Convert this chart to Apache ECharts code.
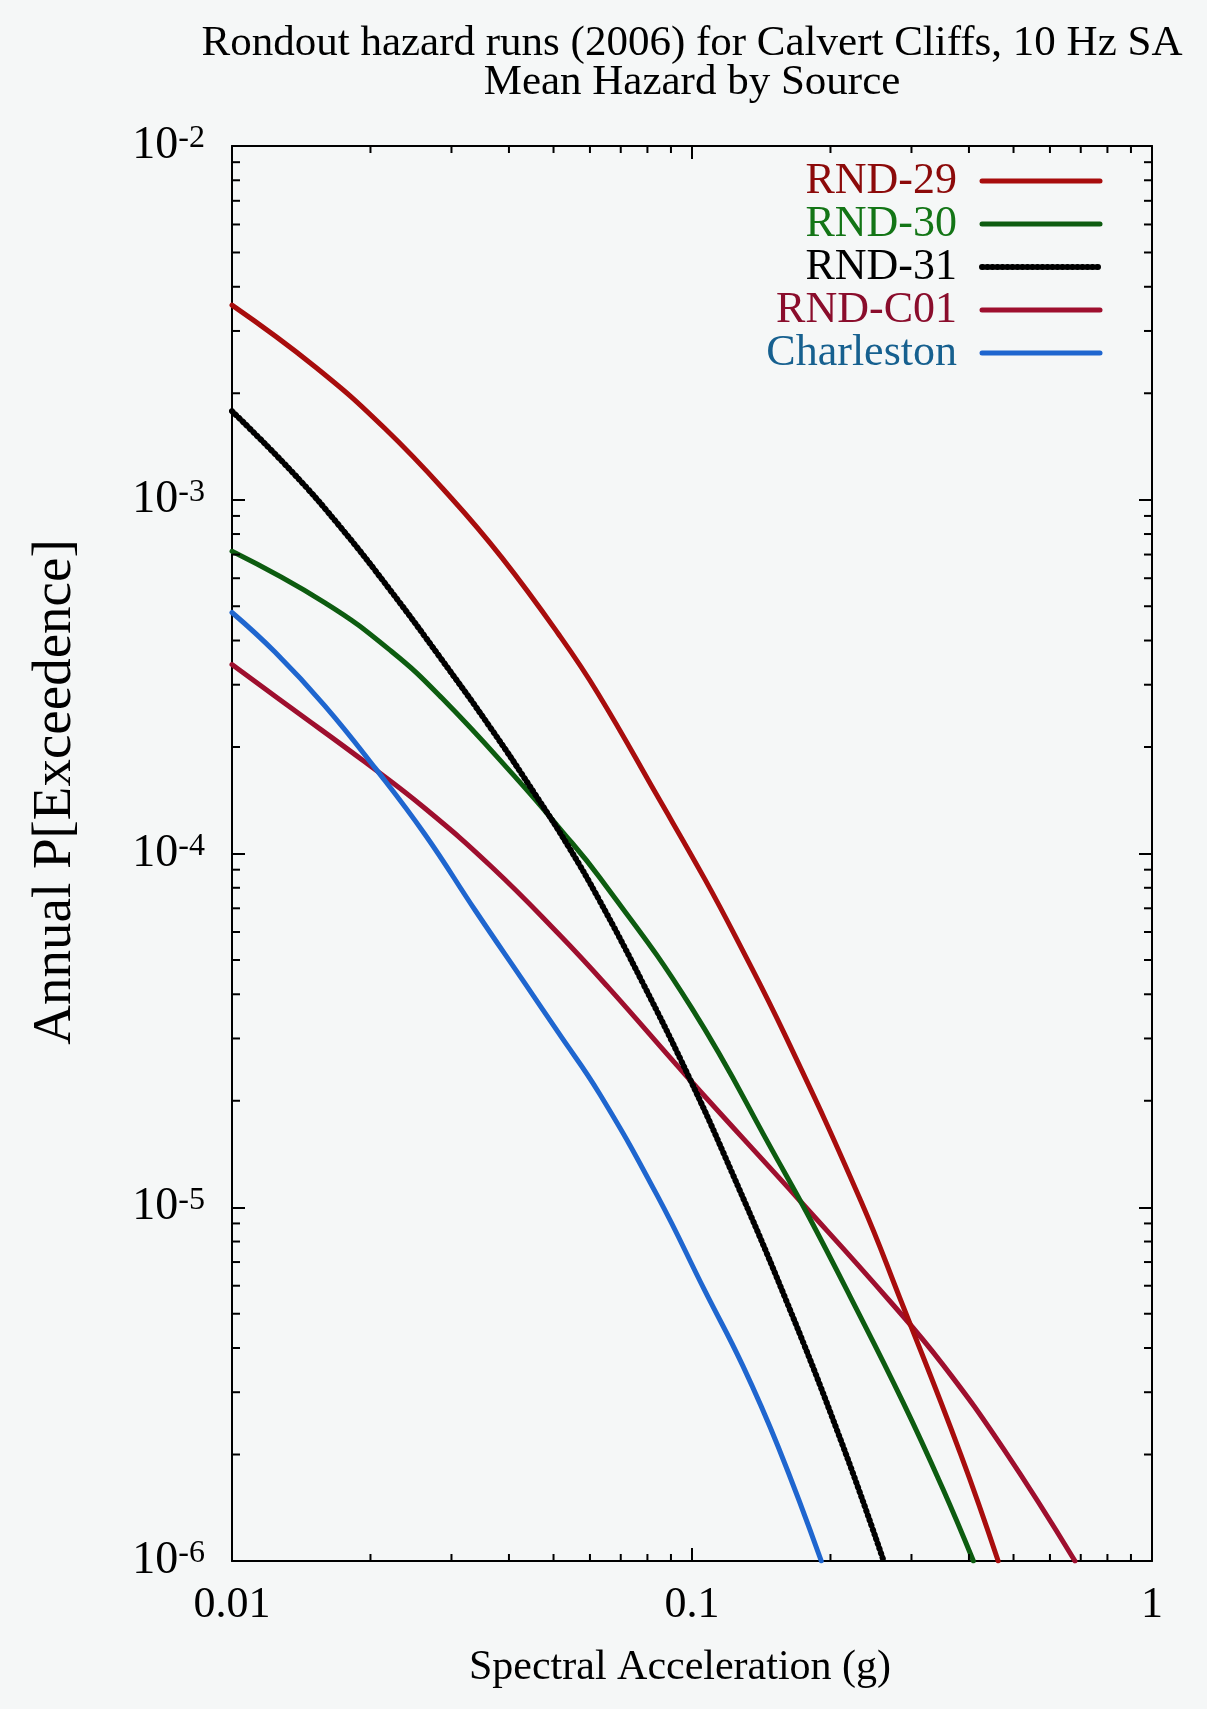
<!DOCTYPE html>
<html>
<head>
<meta charset="utf-8">
<title>Rondout hazard runs (2006) for Calvert Cliffs</title>
<script src="https://cdn.jsdelivr.net/npm/echarts@6/dist/echarts.min.js"></script>
<style>
  html, body { margin: 0; padding: 0; background: #f5f7f7; }
  #chart { width: 1207px; height: 1709px; }
</style>
</head>
<body>
<div id="chart"></div>
<script>
// Values: spectral acceleration (g) vs annual P[exceedence]
const rnd29Sa  = [0.01, 0.0152, 0.0215, 0.030, 0.0386, 0.0512, 0.0625, 0.0839, 0.1067, 0.1245, 0.160, 0.233, 0.283, 0.384, 0.463]
const rnd29Haz = [3.55e-3, 2.37e-3, 1.59e-3, 1.01e-3, 6.86e-4, 4.18e-4, 2.83e-4, 1.46e-4, 8.45e-5, 5.8e-5, 3.03e-5, 1.04e-5, 5.54e-6, 2.0e-6, 1.0e-6]

const rnd30Sa  = [0.01, 0.0159, 0.0222, 0.0286, 0.0419, 0.0512, 0.063, 0.0998, 0.154, 0.178, 0.2206, 0.288, 0.351, 0.409]
const rnd30Haz = [7.15e-4, 5.12e-4, 3.73e-4, 2.75e-4, 1.61e-4, 1.19e-4, 8.55e-5, 3.66e-5, 1.35e-5, 9.6e-6, 5.6e-6, 2.8e-6, 1.6e-6, 1.0e-6]

const rnd31Sa  = [0.01, 0.0135, 0.0173, 0.0222, 0.0284, 0.0367, 0.0456, 0.0538, 0.063, 0.0782, 0.0987, 0.118, 0.160, 0.213, 0.261]
const rnd31Haz = [1.78e-3, 1.2e-3, 8.3e-4, 5.5e-4, 3.57e-4, 2.24e-4, 1.47e-4, 1.05e-4, 7.35e-5, 4.3e-5, 2.32e-5, 1.39e-5, 5.48e-6, 2.11e-6, 1.0e-6]

const rndC01Sa  = [0.01, 0.0135, 0.0195, 0.0263, 0.0367, 0.0512, 0.0657, 0.0987, 0.172, 0.2685, 0.351, 0.476, 0.680]
const rndC01Haz = [3.42e-4, 2.57e-4, 1.81e-4, 1.34e-4, 9.16e-5, 5.94e-5, 4.19e-5, 2.3e-5, 1.04e-5, 5.45e-6, 3.59e-6, 2.07e-6, 1.0e-6]

const charlestonSa  = [0.01, 0.0124, 0.0159, 0.0205, 0.0263, 0.0338, 0.0433, 0.0512, 0.063, 0.084, 0.1067, 0.129, 0.154, 0.191]
const charlestonHaz = [4.8e-4, 3.71e-4, 2.62e-4, 1.74e-4, 1.13e-4, 6.9e-5, 4.3e-5, 3.12e-5, 2.09e-5, 1.08e-5, 5.8e-6, 3.56e-6, 2.1e-6, 1.0e-6]

const seriesNames = ['RND-29', 'RND-30', 'RND-31', 'RND-C01', 'Charleston']
const legendColors = ['#8c0a0a', '#137516', '#000000', '#8a0d2c', '#16608f']

// axis ranges and minor tick positions (gnuplot style 2..9 per decade)
const X_MIN = 0.01, X_MAX = 1
const Y_MIN = 1e-6, Y_MAX = 1e-2
const xMinorTicks = [0.02, 0.03, 0.04, 0.05, 0.06, 0.07, 0.08, 0.09, 0.2, 0.3, 0.4, 0.5, 0.6, 0.7, 0.8, 0.9]
const yDecades = [1e-6, 1e-5, 1e-4, 1e-3]
const yMinorTicks = yDecades.flatMap(d => [2, 3, 4, 5, 6, 7, 8, 9].map(k => +(k * d).toPrecision(2)))

const FONT = '"Liberation Serif", "DejaVu Serif", serif'
const BG = '#f5f7f7'

const pair = (xs, ys) => xs.map((x, i) => [x, ys[i]])

const chart = echarts.init(document.getElementById('chart'), null, { renderer: 'canvas' })

const lineSeries = (name, data, color, extraLine) => ({
    name: name,
    type: 'line',
    data: data,
    symbol: 'none',
    smooth: 0.45,
    smoothConstraint: false,
    clip: true,
    lineStyle: Object.assign({ color: color, width: 5, join: 'round', cap: 'round' }, extraLine || {}),
    itemStyle: { color: color },
    emphasis: { disabled: true }
})

// short inward ticks drawn through the axes' own scale
const minorTickSeries = (data, isX) => ({
    type: 'custom',
    silent: true,
    clip: false,
    data: data,
    z: 10,
    renderItem: (params, api) => {
        const v = api.value(isX ? 0 : 1)
        const style = { stroke: '#000', lineWidth: 2 }
        if (isX) {
            const b = api.coord([v, Y_MIN])
            const t = api.coord([v, Y_MAX])
            return {
                type: 'group',
                children: [
                    { type: 'line', shape: { x1: b[0], y1: b[1], x2: b[0], y2: b[1] - 7 }, style },
                    { type: 'line', shape: { x1: t[0], y1: t[1], x2: t[0], y2: t[1] + 7 }, style }
                ]
            }
        }
        const l = api.coord([X_MIN, v])
        const r = api.coord([X_MAX, v])
        return {
            type: 'group',
            children: [
                { type: 'line', shape: { x1: l[0], y1: l[1], x2: l[0] + 8, y2: l[1] }, style },
                { type: 'line', shape: { x1: r[0], y1: r[1], x2: r[0] - 8, y2: r[1] }, style }
            ]
        }
    }
})

const axisLine = { show: true, lineStyle: { color: '#000', width: 2 } }
const majorTick = { show: true, inside: true, length: 13, lineStyle: { color: '#000', width: 2 } }

const option = {
    backgroundColor: BG,
    animation: false,
    textStyle: { fontFamily: FONT },
    grid: { left: 232, right: 55, top: 146, bottom: 148, containLabel: false, outerBoundsMode: 'none' },
    graphic: [
        {
            type: 'text', x: 692, y: 44,
            style: { text: 'Rondout hazard runs (2006) for Calvert Cliffs, 10 Hz SA', font: '43px ' + FONT, fill: '#000', align: 'center', verticalAlign: 'middle' }
        },
        {
            type: 'text', x: 692, y: 83,
            style: { text: 'Mean Hazard by Source', font: '43px ' + FONT, fill: '#000', align: 'center', verticalAlign: 'middle' }
        },
        {
            type: 'text', x: 56, y: 792, rotation: Math.PI / 2,
            style: { text: 'Annual P[Exceedence]', font: '55px ' + FONT, fill: '#000', align: 'center', verticalAlign: 'middle' }
        }
    ],
    legend: {
        orient: 'vertical',
        right: 99,
        top: 154,
        align: 'right',
        itemWidth: 118,
        itemHeight: 3,
        itemGap: -1,
        selectedMode: false,
        itemStyle: { opacity: 0 },
        lineStyle: { width: 'inherit' },
        textStyle: { fontFamily: FONT, fontSize: 44, lineHeight: 41, padding: [0, 20, 0, 0] },
        data: seriesNames.map((n, i) => ({ name: n, textStyle: { color: legendColors[i] } }))
    },
    xAxis: [
        {
            type: 'log', logBase: 10, min: X_MIN, max: X_MAX, position: 'bottom',
            axisLine: axisLine, axisTick: majorTick, splitLine: { show: false },
            axisLabel: {
                color: '#000', fontFamily: FONT, fontSize: 44, margin: 22,
                formatter: v => String(+(+v).toPrecision(3))
            },
            name: 'Spectral Acceleration (g)', nameLocation: 'middle', nameGap: 86,
            nameTextStyle: { color: '#000', fontFamily: FONT, fontSize: 42, padding: [0, 24, 0, 0] }
        },
        {
            type: 'log', logBase: 10, min: X_MIN, max: X_MAX, position: 'top',
            axisLine: axisLine, axisTick: majorTick, splitLine: { show: false },
            axisLabel: { show: false }
        }
    ],
    yAxis: [
        {
            type: 'log', logBase: 10, min: Y_MIN, max: Y_MAX, position: 'left',
            axisLine: axisLine, axisTick: majorTick, splitLine: { show: false },
            axisLabel: {
                margin: 27,
                formatter: v => '{b|10}{s|' + Math.round(Math.log10(v)) + '}',
                rich: {
                    b: { fontFamily: FONT, fontSize: 46, lineHeight: 46, color: '#000', verticalAlign: 'bottom', padding: [14, 0, 0, 0] },
                    s: { fontFamily: FONT, fontSize: 32, lineHeight: 32, color: '#000', verticalAlign: 'top' }
                }
            }
        },
        {
            type: 'log', logBase: 10, min: Y_MIN, max: Y_MAX, position: 'right',
            axisLine: axisLine, axisTick: majorTick, splitLine: { show: false },
            axisLabel: { show: false }
        }
    ],
    series: [
        lineSeries('RND-C01', pair(rndC01Sa, rndC01Haz), '#9e0f2e'),
        lineSeries('Charleston', pair(charlestonSa, charlestonHaz), '#1f66cf'),
        lineSeries('RND-30', pair(rnd30Sa, rnd30Haz), '#0d5c10'),
        lineSeries('RND-31', pair(rnd31Sa, rnd31Haz), '#000000', { width: 6, type: [1, 4], cap: 'round' }),
        lineSeries('RND-29', pair(rnd29Sa, rnd29Haz), '#a80d0d'),
        minorTickSeries(xMinorTicks.map(v => [v, Y_MIN]), true),
        minorTickSeries(yMinorTicks.map(v => [X_MIN, v]), false)
    ]
}

chart.setOption(option)
</script>
</body>
</html>
